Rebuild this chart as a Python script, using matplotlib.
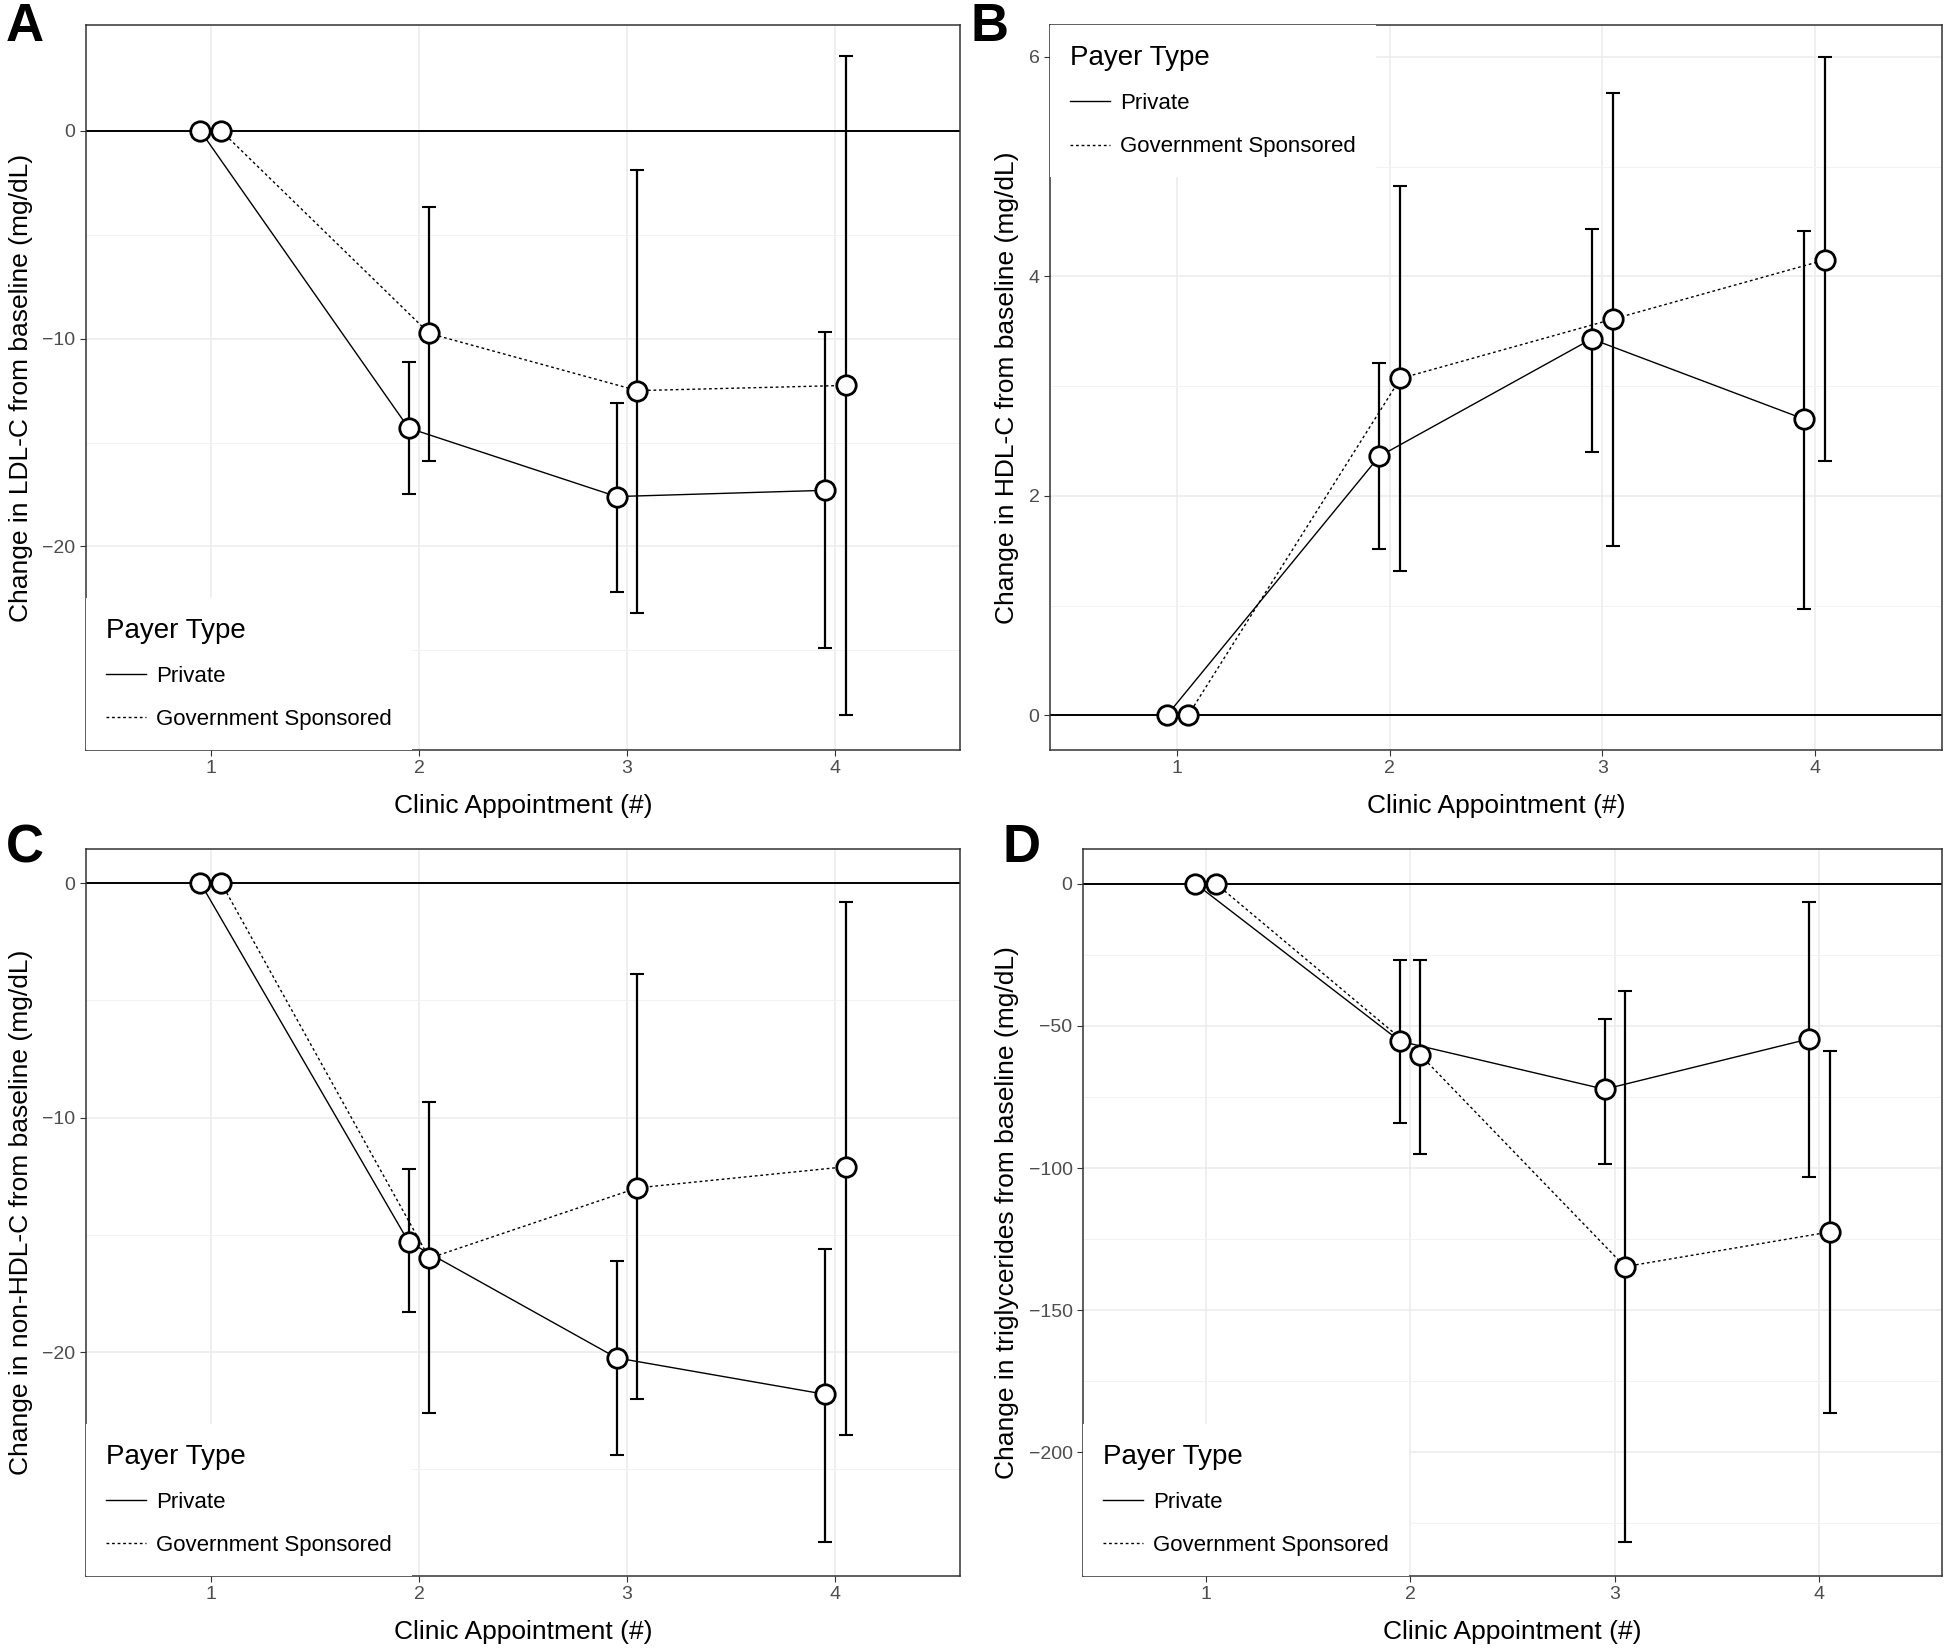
import numpy as np
import matplotlib
matplotlib.use("Agg")
import matplotlib.pyplot as plt
from matplotlib.lines import Line2D

plt.rcParams['font.family'] = ['Liberation Sans', 'DejaVu Sans']

visits = [1, 2, 3, 4]
xticks = [1, 2, 3, 4]

# LDL-C (panel A)
ldl_priv = [0, -14.3, -17.6, -17.3]
ldl_priv_lo = [0, -17.5, -22.2, -24.9]
ldl_priv_hi = [0, -11.1, -13.1, -9.7]
ldl_gov = [0, -9.75, -12.5, -12.25]
ldl_gov_lo = [0, -15.9, -23.2, -28.1]
ldl_gov_hi = [0, -3.65, -1.9, 3.6]

# HDL-C (panel B)
hdl_priv = [0, 2.36, 3.43, 2.70]
hdl_priv_lo = [0, 1.52, 2.40, 0.97]
hdl_priv_hi = [0, 3.21, 4.43, 4.41]
hdl_gov = [0, 3.07, 3.61, 4.15]
hdl_gov_lo = [0, 1.32, 1.545, 2.32]
hdl_gov_hi = [0, 4.82, 5.67, 6.0]

# non-HDL-C (panel C)
nhdl_priv = [0, -15.3, -20.25, -21.8]
nhdl_priv_lo = [0, -18.3, -24.4, -28.1]
nhdl_priv_hi = [0, -12.2, -16.1, -15.6]
nhdl_gov = [0, -16.0, -13.0, -12.1]
nhdl_gov_lo = [0, -22.6, -22.0, -23.55]
nhdl_gov_hi = [0, -9.35, -3.9, -0.8]

# triglycerides (panel D)
tg_priv = [0, -55.4, -72.3, -54.6]
tg_priv_lo = [0, -84, -98.5, -103]
tg_priv_hi = [0, -26.9, -47.6, -6.5]
tg_gov = [0, -60.3, -134.7, -122.5]
tg_gov_lo = [0, -95, -231.5, -186.3]
tg_gov_hi = [0, -26.9, -37.6, -59]

W, H = 1946, 1651
fig = plt.figure(figsize=(W / 100, H / 100), dpi=100)


def px_axes(l, t, r, b):
    return fig.add_axes([l / W, 1 - b / H, (r - l) / W, (b - t) / H])


panels = [
    dict(letter='A', box=(86, 25, 960, 750), ylim=(-29.8, 5.1), major=[0, -10, -20], minor=[-5, -15, -25],
         ylabel='Change in LDL-C from baseline (mg/dL)', legloc='lower left',
         priv=(ldl_priv, ldl_priv_lo, ldl_priv_hi), gov=(ldl_gov, ldl_gov_lo, ldl_gov_hi)),
    dict(letter='B', box=(1050, 25, 1942, 750), ylim=(-0.315, 6.29), major=[0, 2, 4, 6], minor=[1, 3, 5],
         ylabel='Change in HDL-C from baseline (mg/dL)', legloc='upper left',
         priv=(hdl_priv, hdl_priv_lo, hdl_priv_hi), gov=(hdl_gov, hdl_gov_lo, hdl_gov_hi)),
    dict(letter='C', box=(86, 849, 960, 1576), ylim=(-29.55, 1.45), major=[0, -10, -20], minor=[-5, -15, -25],
         ylabel='Change in non-HDL-C from baseline (mg/dL)', legloc='lower left',
         priv=(nhdl_priv, nhdl_priv_lo, nhdl_priv_hi), gov=(nhdl_gov, nhdl_gov_lo, nhdl_gov_hi)),
    dict(letter='D', box=(1083, 849, 1942, 1576), ylim=(-243.5, 12.2),
         major=[0, -50, -100, -150, -200], minor=[-25, -75, -125, -175, -225],
         ylabel='Change in triglycerides from baseline (mg/dL)', legloc='lower left',
         priv=(tg_priv, tg_priv_lo, tg_priv_hi), gov=(tg_gov, tg_gov_lo, tg_gov_hi)),
]

for p in panels:
    ax = px_axes(*p['box'])
    ax.set_xlim(0.4, 4.6)
    ax.set_ylim(*p['ylim'])
    ax.set_xticks(xticks)
    ax.set_yticks(p['major'])
    ax.set_yticks(p['minor'], minor=True)
    ax.grid(True, which='major', color='#EBEBEB', lw=1.1, zorder=0)
    ax.grid(True, which='minor', axis='y', color='#F2F2F2', lw=0.7, zorder=0)
    ax.set_axisbelow(True)
    for s in ax.spines.values():
        s.set_color('#333333')
        s.set_linewidth(1.1)
    ax.tick_params(which='major', length=4, color='#333333', labelcolor='#4D4D4D', labelsize=14)
    ax.tick_params(which='minor', length=0)
    ax.axhline(0, color='black', lw=1.4, zorder=2)

    for key, off, ls in [('priv', -0.05, '-'), ('gov', 0.05, (0, (2, 2)))]:
        y, lo, hi = p[key]
        xs = np.array(visits) + off
        y = np.array(y)
        ax.plot(xs, y, color='black', lw=1.0, ls=ls, zorder=3)
        yerr = [y - np.array(lo), np.array(hi) - y]
        ax.errorbar(xs[1:], y[1:], yerr=[yerr[0][1:], yerr[1][1:]], fmt='none', ecolor='black',
                    elinewidth=1.6, capsize=5, capthick=1.5, zorder=4)
        ax.plot(xs, y, ls='none', marker='o', ms=14, mfc='white', mec='black', mew=2.0, zorder=5)

    ax.set_xlabel('Clinic Appointment (#)', fontsize=19, labelpad=12)
    ax.set_ylabel(p['ylabel'], fontsize=19, labelpad=7)

    handles = [Line2D([], [], color='black', lw=1.0, ls='-'),
               Line2D([], [], color='black', lw=1.0, ls=(0, (2, 2)))]
    leg = ax.legend(handles, ['Private', 'Government Sponsored'], title='Payer Type', loc=p['legloc'],
                    fontsize=16, title_fontsize=20, frameon=True, fancybox=False, framealpha=1,
                    edgecolor='none', facecolor='white', borderaxespad=0.0, handlelength=1.8,
                    handletextpad=0.45, labelspacing=1.0, borderpad=0.9)
    leg._legend_box.align = 'left'
    leg.set_zorder(6)

    l, t, r, b = p['box']
    fig.text((l - 80) / W, 1 - 2 / H if t < 100 else 1 - 823 / H, p['letter'],
             fontsize=38, fontweight='bold', ha='left', va='top')

fig.savefig('out.png', dpi=100)
